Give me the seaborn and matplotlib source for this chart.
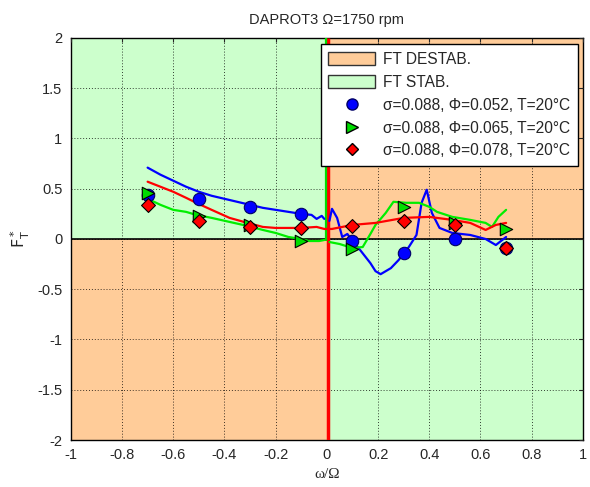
import numpy as np
import pandas as pd
import matplotlib
matplotlib.use("Agg")
from matplotlib import pyplot as plt
from matplotlib.patches import Patch
from matplotlib.lines import Line2D
import seaborn as sns

# measured curves (omega/Omega, F*_T)
blue_x = [-0.70, -0.65, -0.60, -0.55, -0.50, -0.45, -0.40, -0.35, -0.30, -0.25, -0.20, -0.15, -0.10, -0.06, -0.04, -0.02, -0.01]
blue_y = [0.71, 0.64, 0.58, 0.52, 0.47, 0.43, 0.40, 0.37, 0.34, 0.31, 0.29, 0.27, 0.25, 0.24, 0.20, 0.23, 0.20]
blue_x2 = [0.01, 0.02, 0.04, 0.06, 0.08, 0.10, 0.13, 0.17, 0.19, 0.21, 0.25, 0.28, 0.32, 0.35, 0.37, 0.39, 0.41, 0.44, 0.49, 0.56, 0.62, 0.66, 0.70]
blue_y2 = [0.18, 0.30, 0.21, 0.02, 0.05, -0.02, -0.11, -0.24, -0.32, -0.35, -0.29, -0.21, -0.08, 0.04, 0.36, 0.49, 0.26, 0.11, 0.06, 0.04, 0.00, -0.06, 0.02]

green_x = [-0.70, -0.65, -0.60, -0.55, -0.51, -0.45, -0.38, -0.31, -0.25, -0.20, -0.15, -0.10, -0.07, -0.03, -0.01]
green_y = [0.40, 0.34, 0.29, 0.27, 0.24, 0.21, 0.17, 0.13, 0.09, 0.06, 0.02, 0.00, -0.02, -0.02, -0.01]
green_x2 = [0.01, 0.05, 0.10, 0.14, 0.17, 0.19, 0.23, 0.26, 0.31, 0.36, 0.40, 0.43, 0.49, 0.56, 0.62, 0.645, 0.67, 0.70]
green_y2 = [-0.03, -0.05, -0.09, -0.08, 0.05, 0.14, 0.26, 0.37, 0.36, 0.36, 0.32, 0.27, 0.22, 0.19, 0.16, 0.12, 0.22, 0.29]

red_x = [-0.70, -0.65, -0.60, -0.55, -0.51, -0.45, -0.38, -0.31, -0.25, -0.20, -0.15, -0.10, -0.04, -0.01, 0.02, 0.10, 0.19, 0.30, 0.40, 0.49, 0.56, 0.62, 0.66, 0.70]
red_y = [0.57, 0.52, 0.47, 0.41, 0.36, 0.29, 0.21, 0.16, 0.12, 0.11, 0.11, 0.11, 0.12, 0.10, 0.10, 0.14, 0.16, 0.21, 0.22, 0.19, 0.16, 0.09, 0.14, 0.16]

# discrete points
pts_x = [-0.7, -0.5, -0.3, -0.1, 0.1, 0.3, 0.5, 0.7]
circ_y = [0.44, 0.40, 0.32, 0.25, -0.02, -0.14, 0.00, -0.09]
tri_y = [0.46, 0.23, 0.14, -0.02, -0.10, 0.32, 0.16, 0.10]
dia_y = [0.34, 0.18, 0.12, 0.11, 0.13, 0.18, 0.14, -0.09]

labels = ["\u03c3=0.088, \u03a6=0.052, T=20\u00b0C",
          "\u03c3=0.088, \u03a6=0.065, T=20\u00b0C",
          "\u03c3=0.088, \u03a6=0.078, T=20\u00b0C"]

orange = "#ffcc99"
lgreen = "#ccffcc"

sns.set_style("white")
plt.rcParams["font.family"] = ["Liberation Sans", "DejaVu Sans"]

fig = plt.figure(figsize=(5.9, 4.87), dpi=100)
ax = fig.add_axes([0.120, 0.0965, 0.868, 0.8255])

ax.fill_between([-1, 0], 0, 2, color=lgreen, lw=0, zorder=0)
ax.fill_between([0, 1], 0, 2, color=orange, lw=0, zorder=0)
ax.fill_between([-1, 0], -2, 0, color=orange, lw=0, zorder=0)
ax.fill_between([0, 1], -2, 0, color=lgreen, lw=0, zorder=0)

ax.grid(True, color="black", linestyle=(0, (1, 2)), linewidth=0.7, alpha=0.75)
ax.set_axisbelow(False)
ax.axhline(0, color="black", lw=1.2, zorder=2)

# jumps at omega = 0
ax.vlines([0.003], -2, 2, color="red", lw=2.5, zorder=3)
ax.vlines([-0.003], -0.02, 2, color="#00dd00", lw=1.6, zorder=3)
ax.vlines([0.006], -2, 0.2, color="blue", lw=1.2, zorder=2.5)

sns.lineplot(x=blue_x, y=blue_y, color="blue", lw=1.6, sort=False, ax=ax, zorder=4)
sns.lineplot(x=blue_x2, y=blue_y2, color="blue", lw=1.6, sort=False, ax=ax, zorder=4)
sns.lineplot(x=green_x, y=green_y, color="#00ee00", lw=1.6, sort=False, ax=ax, zorder=4)
sns.lineplot(x=green_x2, y=green_y2, color="#00ee00", lw=1.6, sort=False, ax=ax, zorder=4)
sns.lineplot(x=red_x, y=red_y, color="red", lw=1.6, sort=False, ax=ax, zorder=4)

sns.scatterplot(x=pts_x, y=circ_y, marker="o", color="blue", edgecolor="#000066", s=80, linewidth=0.8, ax=ax, zorder=5)
sns.scatterplot(x=pts_x, y=tri_y, marker=">", color="#00dd00", edgecolor="black", s=80, linewidth=0.8, ax=ax, zorder=6)
sns.scatterplot(x=pts_x, y=dia_y, marker="D", color="red", edgecolor="black", s=50, linewidth=0.8, ax=ax, zorder=7)

ax.set_xlim(-1, 1)
ax.set_ylim(-2, 2)
ax.set_xticks(np.arange(-1, 1.01, 0.2))
ax.set_yticks(np.arange(-2, 2.01, 0.5))
ax.set_xticklabels(["-1", "-0.8", "-0.6", "-0.4", "-0.2", "0", "0.2", "0.4", "0.6", "0.8", "1"])
ax.set_yticklabels(["-2", "-1.5", "-1", "-0.5", "0", "0.5", "1", "1.5", "2"])
ax.tick_params(direction="in", length=3, top=True, right=True, labelsize=10.5, pad=6, width=0.8)
for s in ax.spines.values():
    s.set_color("black")
    s.set_linewidth(1)

ax.set_title("DAPROT3 \u03a9=1750 rpm", fontsize=10.5, pad=10)
ax.set_xlabel("\u03c9/\u03a9", fontsize=11, family=["Liberation Serif"])
ax.set_ylabel(r"$\mathrm{F}^*_\mathrm{T}$", fontsize=11.5)

handles = [
    Patch(facecolor=orange, edgecolor="#333333", label="FT DESTAB."),
    Patch(facecolor=lgreen, edgecolor="#333333", label="FT STAB."),
    Line2D([], [], marker="o", ls="", color="blue", mec="#000066", ms=8, label=labels[0]),
    Line2D([], [], marker=">", ls="", color="#00dd00", mec="black", ms=8, label=labels[1]),
    Line2D([], [], marker="D", ls="", color="red", mec="black", ms=6, label=labels[2]),
]
leg = ax.legend(handles=handles, loc="upper right", bbox_to_anchor=(0.990, 0.984), fontsize=11.2,
                frameon=True, fancybox=False, framealpha=1, edgecolor="black",
                borderpad=0.5, labelspacing=0.5, handlelength=3.0, handleheight=0.9,
                handletextpad=0.5, borderaxespad=0)
leg.get_frame().set_linewidth(1)
leg.set_zorder(10)

fig.savefig("out.png", dpi=100)
